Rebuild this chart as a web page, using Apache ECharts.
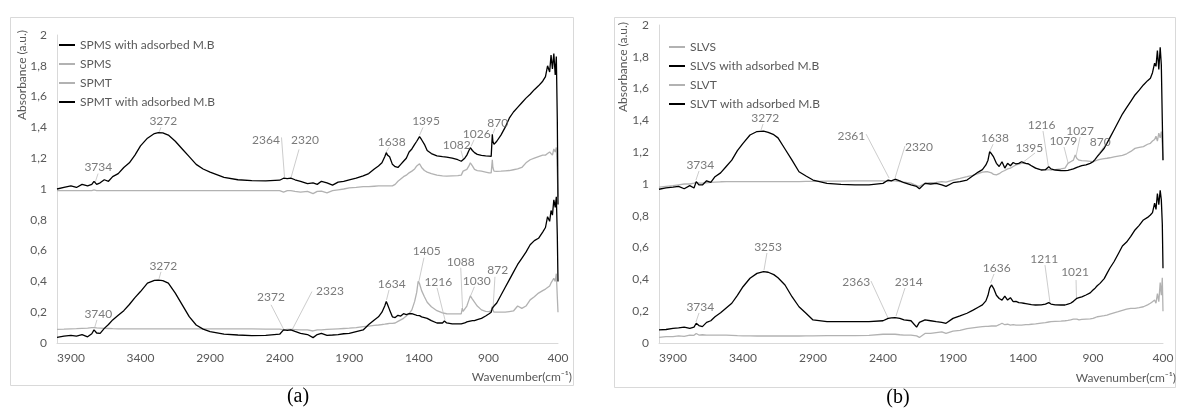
<!DOCTYPE html>
<html>
<head>
<meta charset="utf-8">
<script src="https://cdn.jsdelivr.net/npm/echarts@6/dist/echarts.min.js"></script>
<style>
    html, body { margin: 0; padding: 0; background: #fff; }
    #main { width: 1178px; height: 414px; }
</style>
</head>
<body>
<div id="main"></div>
<script>
// ---------- panel (a) ----------
var wavenumbersA = [
    4000, 3950, 3900, 3860, 3820, 3780, 3750, 3734, 3715, 3690,
    3660, 3630, 3600, 3560, 3520, 3480, 3440, 3400, 3350, 3300,
    3272, 3240, 3200, 3150, 3100, 3050, 3000, 2950, 2900, 2800,
    2700, 2600, 2500, 2400, 2372, 2345, 2320, 2290, 2250, 2200,
    2160, 2130, 2100, 2060, 2020, 1980, 1940, 1900, 1850, 1800,
    1760, 1720, 1690, 1665, 1645, 1634, 1625, 1610, 1590, 1570,
    1550, 1530, 1510, 1490, 1470, 1450, 1430, 1415, 1405, 1395,
    1380, 1360, 1340, 1310, 1270, 1230, 1216, 1200, 1160, 1120,
    1095, 1088, 1082, 1070, 1055, 1040, 1030, 1015, 1000, 980,
    950, 920, 895, 880, 872, 868, 860, 840, 810, 780,
    750, 720, 690, 660, 630, 600, 570, 540, 510, 490,
    475, 460, 450, 440, 430, 420, 412, 405, 400
];
var spmsAdsorbed = [
    1.00, 1.01, 1.02, 1.01, 1.03, 1.02, 1.03, 1.05, 1.03, 1.04,
    1.06, 1.05, 1.08, 1.10, 1.14, 1.17, 1.22, 1.28, 1.33, 1.36,
    1.366, 1.365, 1.35, 1.31, 1.26, 1.21, 1.16, 1.13, 1.11, 1.075,
    1.06, 1.055, 1.053, 1.057, 1.07, 1.068, 1.07, 1.06, 1.05, 1.035,
    1.04, 1.03, 1.05, 1.04, 1.025, 1.045, 1.05, 1.06, 1.07, 1.085,
    1.10, 1.13, 1.15, 1.17, 1.21, 1.236, 1.22, 1.21, 1.16, 1.145,
    1.14, 1.16, 1.18, 1.20, 1.24, 1.26, 1.29, 1.31, 1.32, 1.34,
    1.32, 1.29, 1.25, 1.23, 1.215, 1.21, 1.205, 1.207, 1.20, 1.19,
    1.18, 1.18, 1.178, 1.20, 1.22, 1.25, 1.268, 1.25, 1.236, 1.225,
    1.218, 1.215, 1.214, 1.212, 1.355, 1.31, 1.29, 1.31, 1.35, 1.40,
    1.46, 1.50, 1.53, 1.56, 1.59, 1.615, 1.645, 1.67, 1.70, 1.73,
    1.80, 1.76, 1.87, 1.78, 1.88, 1.74, 1.86, 1.45, 0.90
];
var spms = [
    0.99, 0.99, 0.99, 0.99, 0.99, 0.99, 0.99, 0.995, 0.99, 0.99,
    0.99, 0.99, 0.99, 0.99, 0.99, 0.99, 0.99, 0.99, 0.99, 0.99,
    0.99, 0.99, 0.99, 0.99, 0.99, 0.99, 0.99, 0.99, 0.99, 0.99,
    0.99, 0.99, 0.99, 0.99, 0.98, 0.99, 0.99, 0.985, 0.98, 0.985,
    0.97, 0.985, 0.986, 0.975, 0.99, 0.995, 1.0, 1.007, 1.01, 1.015,
    1.015, 1.018, 1.02, 1.02, 1.02, 1.02, 1.02, 1.02, 1.02, 1.03,
    1.05, 1.065, 1.08, 1.09, 1.105, 1.116, 1.13, 1.15, 1.16, 1.164,
    1.14, 1.12, 1.11, 1.10, 1.09, 1.085, 1.083, 1.083, 1.085, 1.087,
    1.09, 1.10, 1.116, 1.12, 1.127, 1.15, 1.17, 1.15, 1.127, 1.12,
    1.116, 1.11, 1.105, 1.105, 1.19, 1.14, 1.116, 1.115, 1.116, 1.118,
    1.12, 1.125, 1.13, 1.14, 1.17, 1.19, 1.20, 1.21, 1.22, 1.22,
    1.23, 1.24, 1.25, 1.22, 1.26, 1.24, 1.27, 1.10, 0.95
];
var spmt = [
    0.089, 0.09, 0.092, 0.093, 0.095, 0.097, 0.10, 0.10, 0.098, 0.097,
    0.095, 0.094, 0.093, 0.092, 0.092, 0.092, 0.092, 0.092, 0.092, 0.092,
    0.092, 0.092, 0.092, 0.092, 0.092, 0.092, 0.092, 0.092, 0.092, 0.092,
    0.092, 0.092, 0.09, 0.09, 0.085, 0.088, 0.088, 0.087, 0.085, 0.085,
    0.078, 0.085, 0.085, 0.088, 0.09, 0.092, 0.094, 0.096, 0.10, 0.106,
    0.11, 0.115, 0.117, 0.12, 0.122, 0.124, 0.125, 0.127, 0.128, 0.13,
    0.14, 0.15, 0.16, 0.175, 0.19, 0.215, 0.27, 0.33, 0.40, 0.385,
    0.34, 0.30, 0.265, 0.235, 0.21, 0.195, 0.192, 0.19, 0.189, 0.189,
    0.19, 0.226, 0.205, 0.21, 0.24, 0.28, 0.306, 0.285, 0.265, 0.24,
    0.215, 0.205, 0.204, 0.21, 0.237, 0.215, 0.20, 0.20, 0.20, 0.20,
    0.204, 0.208, 0.24, 0.225, 0.24, 0.28, 0.30, 0.324, 0.34, 0.35,
    0.36, 0.37, 0.39, 0.38, 0.42, 0.40, 0.45, 0.30, 0.20
];
var spmtAdsorbed = [
    0.037, 0.045, 0.05, 0.045, 0.055, 0.04, 0.06, 0.085, 0.065, 0.063,
    0.095, 0.12, 0.15, 0.18, 0.21, 0.25, 0.295, 0.334, 0.389, 0.406,
    0.408, 0.405, 0.389, 0.324, 0.248, 0.171, 0.117, 0.09, 0.074, 0.057,
    0.052, 0.048, 0.05, 0.057, 0.085, 0.082, 0.085, 0.075, 0.063, 0.055,
    0.035, 0.055, 0.063, 0.05, 0.052, 0.055, 0.06, 0.063, 0.074, 0.085,
    0.12, 0.15, 0.17, 0.20, 0.24, 0.27, 0.25, 0.215, 0.17, 0.165,
    0.18, 0.175, 0.19, 0.185, 0.19, 0.19, 0.185, 0.18, 0.18, 0.178,
    0.17, 0.165, 0.16, 0.145, 0.13, 0.13, 0.143, 0.13, 0.124, 0.124,
    0.124, 0.125, 0.126, 0.13, 0.137, 0.14, 0.143, 0.145, 0.145, 0.152,
    0.16, 0.175, 0.19, 0.20, 0.226, 0.232, 0.24, 0.26, 0.31, 0.36,
    0.41, 0.46, 0.51, 0.55, 0.59, 0.638, 0.665, 0.68, 0.72, 0.75,
    0.82, 0.79, 0.86, 0.83, 0.93, 0.88, 0.95, 0.70, 0.40
];

// ---------- panel (b) ----------
var wavenumbersB = [
    4000, 3950, 3900, 3860, 3820, 3780, 3750, 3734, 3715, 3690,
    3660, 3630, 3600, 3560, 3520, 3480, 3440, 3400, 3350, 3300,
    3253, 3220, 3180, 3150, 3100, 3050, 3000, 2950, 2900, 2800,
    2700, 2600, 2500, 2400, 2363, 2340, 2314, 2280, 2250, 2200,
    2160, 2140, 2100, 2060, 2020, 1980, 1950, 1900, 1850, 1800,
    1760, 1720, 1690, 1665, 1650, 1638, 1625, 1610, 1590, 1570,
    1550, 1530, 1510, 1490, 1470, 1450, 1430, 1410, 1395, 1380,
    1360, 1340, 1310, 1270, 1240, 1216, 1200, 1170, 1130, 1100,
    1079, 1060, 1040, 1027, 1015, 1000, 980, 950, 920, 900,
    885, 870, 850, 820, 800, 780, 750, 720, 690, 660,
    630, 600, 570, 540, 510, 490, 475, 460, 450, 440,
    430, 420, 412, 405, 400
];
var slvs = [
    0.98, 0.985, 0.99, 0.995, 1.0, 1.0, 1.005, 1.01, 1.005, 1.005,
    1.008, 1.01, 1.012, 1.014, 1.015, 1.015, 1.015, 1.015, 1.015, 1.015,
    1.015, 1.015, 1.015, 1.015, 1.015, 1.015, 1.015, 1.016, 1.017, 1.018,
    1.018, 1.02, 1.02, 1.02, 1.015, 1.02, 1.02, 1.015, 1.012, 1.005,
    0.99, 0.985, 1.005, 1.008, 1.01, 1.015, 1.012, 1.025, 1.035, 1.046,
    1.055, 1.065, 1.075, 1.077, 1.077, 1.075, 1.07, 1.06, 1.057, 1.065,
    1.077, 1.085, 1.095, 1.10, 1.11, 1.12, 1.125, 1.13, 1.13, 1.128,
    1.125, 1.115, 1.10, 1.09, 1.088, 1.09, 1.088, 1.09, 1.095, 1.10,
    1.13, 1.14, 1.15, 1.182, 1.16, 1.15, 1.147, 1.145, 1.142, 1.14,
    1.145, 1.15, 1.155, 1.16, 1.162, 1.165, 1.17, 1.175, 1.18, 1.19,
    1.205, 1.224, 1.23, 1.235, 1.25, 1.256, 1.27, 1.28, 1.30, 1.27,
    1.32, 1.29, 1.33, 1.25, 1.15
];
var slvsAdsorbed = [
    0.967, 0.975, 0.98, 0.985, 0.97, 0.99, 0.975, 1.015, 0.995, 0.994,
    1.02, 1.01, 1.046, 1.07, 1.11, 1.15, 1.21, 1.256, 1.308, 1.33,
    1.333, 1.325, 1.31, 1.29, 1.22, 1.15, 1.077, 1.05, 1.025, 1.004,
    0.998, 0.994, 0.995, 1.004, 1.025, 1.02, 1.03, 1.02, 1.008, 0.994,
    0.985, 0.97, 1.004, 1.0, 1.004, 0.995, 0.985, 1.008, 1.015, 1.025,
    1.05, 1.075, 1.09, 1.12, 1.15, 1.203, 1.19, 1.17, 1.13, 1.11,
    1.14, 1.10, 1.13, 1.115, 1.135, 1.126, 1.13, 1.14, 1.134, 1.13,
    1.126, 1.115, 1.10, 1.088, 1.09, 1.109, 1.095, 1.088, 1.085, 1.084,
    1.086, 1.09, 1.095, 1.10, 1.105, 1.109, 1.115, 1.12, 1.13, 1.14,
    1.155, 1.172, 1.193, 1.225, 1.256, 1.29, 1.34, 1.39, 1.44, 1.48,
    1.52, 1.56, 1.59, 1.623, 1.65, 1.665, 1.70, 1.76, 1.74, 1.84,
    1.72, 1.86, 1.75, 1.40, 1.15
];
var slvt = [
    0.036, 0.04, 0.04, 0.045, 0.042, 0.05, 0.048, 0.06, 0.05, 0.052,
    0.05, 0.05, 0.05, 0.05, 0.05, 0.048, 0.046, 0.045, 0.045, 0.044,
    0.044, 0.044, 0.044, 0.044, 0.044, 0.044, 0.044, 0.045, 0.045, 0.046,
    0.046, 0.046, 0.048, 0.055, 0.055, 0.055, 0.055, 0.052, 0.05, 0.05,
    0.045, 0.035, 0.06, 0.06, 0.065, 0.07, 0.06, 0.075, 0.08, 0.09,
    0.095, 0.10, 0.103, 0.105, 0.105, 0.105, 0.107, 0.107, 0.107, 0.115,
    0.124, 0.115, 0.118, 0.113, 0.115, 0.113, 0.113, 0.113, 0.114, 0.115,
    0.116, 0.118, 0.12, 0.125, 0.128, 0.132, 0.134, 0.136, 0.138, 0.14,
    0.142, 0.145, 0.15, 0.155, 0.15, 0.145, 0.148, 0.15, 0.152, 0.155,
    0.16, 0.165, 0.168, 0.172, 0.176, 0.182, 0.19, 0.197, 0.205, 0.213,
    0.218, 0.218, 0.222, 0.228, 0.24, 0.25, 0.26, 0.27, 0.25, 0.31,
    0.26, 0.38, 0.30, 0.41, 0.20
];
var slvtAdsorbed = [
    0.082, 0.085, 0.092, 0.095, 0.10, 0.092, 0.10, 0.124, 0.11, 0.103,
    0.13, 0.14, 0.165, 0.19, 0.22, 0.25, 0.30, 0.354, 0.407, 0.438,
    0.449, 0.445, 0.43, 0.41, 0.365, 0.291, 0.228, 0.187, 0.145, 0.134,
    0.134, 0.134, 0.135, 0.14, 0.155, 0.158, 0.16, 0.155, 0.145, 0.14,
    0.10, 0.13, 0.145, 0.14, 0.134, 0.13, 0.124, 0.155, 0.17, 0.187,
    0.205, 0.225, 0.24, 0.265, 0.30, 0.345, 0.365, 0.344, 0.30, 0.28,
    0.27, 0.295, 0.27, 0.285, 0.26, 0.262, 0.254, 0.252, 0.25, 0.248,
    0.245, 0.242, 0.239, 0.24, 0.245, 0.254, 0.245, 0.24, 0.239, 0.239,
    0.245, 0.25, 0.262, 0.27, 0.281, 0.285, 0.29, 0.302, 0.315, 0.333,
    0.345, 0.36, 0.375, 0.405, 0.438, 0.47, 0.511, 0.56, 0.61, 0.635,
    0.67, 0.711, 0.74, 0.774, 0.79, 0.805, 0.82, 0.88, 0.84, 0.94,
    0.87, 0.96, 0.90, 0.75, 0.47
];

// axis ticks
var wavenumberTicks = [3900, 3400, 2900, 2400, 1900, 1400, 900, 400];

// peak labels: text, where the text sits, and the leader line [from, to]
var peakLabelsA = ['3734', '3272', '2364', '2320', '1638', '1395', '1082', '1026', '870',
    '3740', '3272', '2372', '2323', '1634', '1405', '1216', '1088', '1030', '872'];
var peakTextAtA = [[3703, 1.145], [3236, 1.44], [2498, 1.318], [2218, 1.318], [1595, 1.307],
    [1348, 1.438], [1128, 1.283], [984, 1.357], [833, 1.431],
    [3703, 0.189], [3236, 0.497], [2462, 0.298], [2038, 0.334], [1595, 0.384],
    [1343, 0.595], [1260, 0.395], [1099, 0.523], [984, 0.404], [833, 0.471]];
var peakLeadersA = [
    [[3705, 1.10], [3727, 1.04]], [[3253, 1.40], [3267, 1.368]], [[2387, 1.335], [2365, 1.075]],
    [[2261, 1.257], [2318, 1.075]], [[1614, 1.27], [1636, 1.238]], [[1370, 1.40], [1395, 1.349]],
    [[1097, 1.25], [1079, 1.19]], [[1003, 1.32], [1025, 1.277]], [[853, 1.394], [867, 1.36]],
    [[3713, 0.15], [3730, 0.098]], [[3253, 0.462], [3267, 0.417]], [[2462, 0.248], [2369, 0.085]],
    [[2168, 0.334], [2311, 0.085]], [[1614, 0.345], [1632, 0.28]], [[1363, 0.554], [1402, 0.39]],
    [[1269, 0.358], [1212, 0.15]], [[1099, 0.489], [1086, 0.228]], [[1001, 0.365], [1028, 0.306]],
    [[853, 0.43], [867, 0.22]]
];
var peakLabelsB = ['3734', '3272', '2361', '2320', '1638', '1395', '1216', '1079', '1027', '870',
    '3734', '3253', '2363', '2314', '1636', '1211', '1021'];
var peakTextAtB = [[3705, 1.12], [3241, 1.413], [2626, 1.304], [2143, 1.235], [1600, 1.287],
    [1355, 1.228], [1267, 1.371], [1112, 1.272], [992, 1.333], [848, 1.266],
    [3705, 0.228], [3221, 0.606], [2591, 0.386], [2216, 0.386], [1588, 0.47],
    [1248, 0.528], [1028, 0.445]];
var peakLeadersB = [
    [[3714, 1.082], [3736, 1.025]], [[3257, 1.377], [3271, 1.34]], [[2521, 1.314], [2357, 1.038]],
    [[2243, 1.239], [2314, 1.038]], [[1614, 1.25], [1636, 1.208]], [[1314, 1.195], [1395, 1.14]],
    [[1257, 1.333], [1218, 1.107]], [[1107, 1.233], [1078, 1.132]], [[992, 1.296], [1021, 1.176]],
    [[778, 1.289], [871, 1.176]],
    [[3714, 0.189], [3736, 0.132]], [[3229, 0.566], [3250, 0.459]], [[2486, 0.39], [2364, 0.157]],
    [[2243, 0.346], [2307, 0.17]], [[1607, 0.434], [1632, 0.377]], [[1243, 0.49], [1207, 0.252]],
    [[1021, 0.396], [1018, 0.283]]
];

var FONT = 'Lato, "Open Sans", sans-serif';
var TXT = '#595959';
var AXIS = '#d9d9d9';
var BLACK = '#000000';
var GREY = '#b2b2b2';

function zip(xs, ys) {
    var out = [];
    for (var i = 0; i < xs.length; i++) out.push([xs[i], ys[i]]);
    return out;
}

function spectrum(name, xs, ys, color, idx, z) {
    return {
        name: name, type: 'line', xAxisIndex: idx, yAxisIndex: idx,
        data: zip(xs, ys), showSymbol: false, symbol: 'none', z: z,
        lineStyle: { color: color, width: 1.3 }, itemStyle: { color: color }
    };
}

function leaders(list, idx) {
    return {
        type: 'lines', coordinateSystem: 'cartesian2d', xAxisIndex: idx, yAxisIndex: idx,
        silent: true, z: 1,
        lineStyle: { color: '#bfbfbf', width: 0.8, opacity: 1 },
        data: list.map(function (c) { return { coords: c }; })
    };
}

function peakText(names, at, idx) {
    return {
        type: 'scatter', xAxisIndex: idx, yAxisIndex: idx, symbolSize: 1, silent: true, z: 6,
        itemStyle: { color: 'rgba(0,0,0,0)' },
        label: { show: true, position: 'inside', formatter: '{b}', color: TXT, fontSize: 12, fontFamily: FONT },
        data: names.map(function (n, i) { return { name: n, value: at[i] }; })
    };
}

function xAxisOf(idx) {
    return {
        gridIndex: idx, type: 'value', min: 400, max: 4000, interval: 500, inverse: true,
        axisLine: { show: true, onZero: false, lineStyle: { color: AXIS } },
        axisTick: { show: false }, splitLine: { show: false },
        axisLabel: {
            color: TXT, fontSize: 12, fontFamily: FONT, margin: 9,
            formatter: function (v) { return wavenumberTicks.indexOf(v) >= 0 ? String(v) : ''; }
        }
    };
}

function yAxisOf(idx) {
    return {
        gridIndex: idx, type: 'value', min: 0, max: 2, interval: 0.2,
        axisLine: { show: true, lineStyle: { color: AXIS } },
        axisTick: { show: false }, splitLine: { show: false },
        axisLabel: {
            color: TXT, fontSize: 12, fontFamily: FONT, margin: 10,
            formatter: function (v) { return String(+v.toFixed(1)).replace('.', ','); }
        }
    };
}

function legendOf(names, left, top) {
    return {
        data: names, orient: 'vertical', left: left, top: top, padding: 0,
        icon: 'rect', itemWidth: 16, itemHeight: 2, itemGap: 7, selectedMode: false,
        textStyle: { color: TXT, fontSize: 12, fontFamily: FONT }
    };
}

var chart = echarts.init(document.getElementById('main'));

chart.setOption({
    animation: false,
    backgroundColor: '#fff',
    grid: [
        { left: 57, top: 35, width: 501, height: 308 },
        { left: 659, top: 25, width: 504, height: 318 }
    ],
    xAxis: [xAxisOf(0), xAxisOf(1)],
    yAxis: [yAxisOf(0), yAxisOf(1)],
    legend: [
        legendOf(['SPMS with adsorbed M.B', 'SPMS', 'SPMT', 'SPMT with adsorbed M.B'], 59, 39),
        legendOf(['SLVS', 'SLVS with adsorbed M.B', 'SLVT', 'SLVT with adsorbed M.B'], 669, 41)
    ],
    graphic: [
        { type: 'rect', silent: true, shape: { x: 10.5, y: 17.5, width: 563, height: 368 }, style: { fill: 'none', stroke: AXIS, lineWidth: 1 } },
        { type: 'rect', silent: true, shape: { x: 614.5, y: 17.5, width: 561, height: 370 }, style: { fill: 'none', stroke: AXIS, lineWidth: 1 } },
        { type: 'text', x: 22, y: 75, rotation: Math.PI / 2, style: { text: 'Absorbance (a.u.)', fill: TXT, font: '12px ' + FONT, align: 'center', verticalAlign: 'middle' } },
        { type: 'text', x: 623, y: 67, rotation: Math.PI / 2, style: { text: 'Absorbance (a.u.)', fill: TXT, font: '12px ' + FONT, align: 'center', verticalAlign: 'middle' } },
        { type: 'text', x: 572, y: 377, style: { text: 'Wavenumber(cm\u207B\u00B9)', fill: TXT, font: '12px ' + FONT, align: 'right', verticalAlign: 'middle' } },
        { type: 'text', x: 1176, y: 378, style: { text: 'Wavenumber(cm\u207B\u00B9)', fill: TXT, font: '12px ' + FONT, align: 'right', verticalAlign: 'middle' } },
        { type: 'text', x: 298, y: 397, style: { text: '(a)', fill: '#000', font: '20px "Liberation Serif", serif', align: 'center', verticalAlign: 'middle' } },
        { type: 'text', x: 898, y: 398, style: { text: '(b)', fill: '#000', font: '20px "Liberation Serif", serif', align: 'center', verticalAlign: 'middle' } }
    ],
    series: [
        leaders(peakLeadersA, 0),
        spectrum('SPMS', wavenumbersA, spms, GREY, 0, 2),
        spectrum('SPMT', wavenumbersA, spmt, GREY, 0, 2),
        spectrum('SPMS with adsorbed M.B', wavenumbersA, spmsAdsorbed, BLACK, 0, 3),
        spectrum('SPMT with adsorbed M.B', wavenumbersA, spmtAdsorbed, BLACK, 0, 3),
        peakText(peakLabelsA, peakTextAtA, 0),

        leaders(peakLeadersB, 1),
        spectrum('SLVS', wavenumbersB, slvs, GREY, 1, 2),
        spectrum('SLVT', wavenumbersB, slvt, GREY, 1, 2),
        spectrum('SLVS with adsorbed M.B', wavenumbersB, slvsAdsorbed, BLACK, 1, 3),
        spectrum('SLVT with adsorbed M.B', wavenumbersB, slvtAdsorbed, BLACK, 1, 3),
        peakText(peakLabelsB, peakTextAtB, 1)
    ]
});
</script>
</body>
</html>
